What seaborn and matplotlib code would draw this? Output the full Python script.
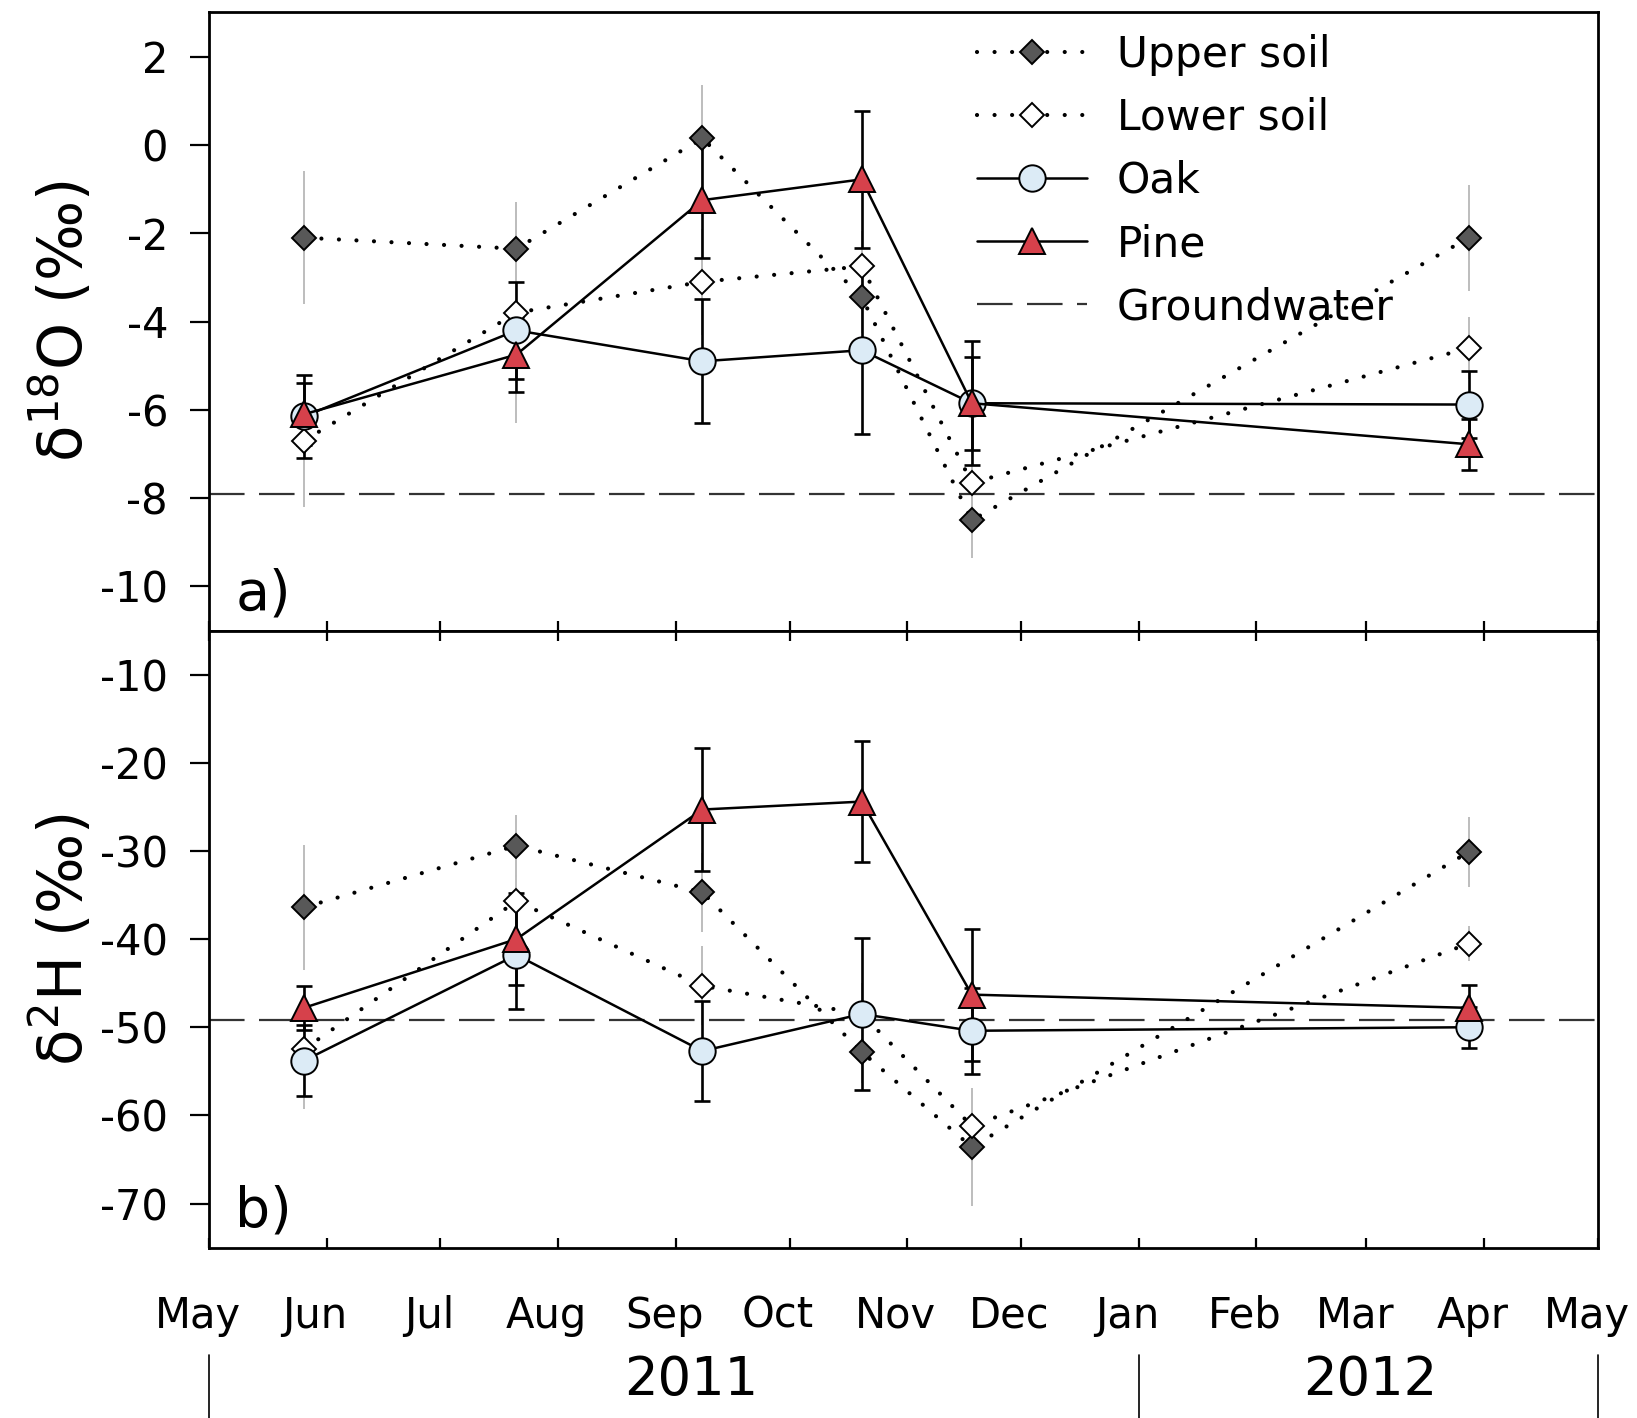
import numpy as np
import pandas as pd
import matplotlib
matplotlib.use('Agg')
import matplotlib.pyplot as plt
import matplotlib.dates as mdates
import matplotlib.transforms as mtransforms
import seaborn as sns

# ---------------- data ----------------
sample_dates = ['2011-05-26', '2011-07-21', '2011-09-08',
                '2011-10-20', '2011-11-18', '2012-03-28']

# panel a: d18O (permil)
upper_o = [-2.1, -2.35, 0.15, -3.45, -8.5, -2.1]
upper_o_err = [1.5, 1.05, 1.2, 0.8, 0.85, 1.2]
lower_o = [-6.7, -3.8, -3.1, -2.75, -7.65, -4.6]
lower_o_err = [1.5, 2.5, 1.2, 0.8, 0.8, 0.7]
oak_o = [-6.15, -4.2, -4.9, -4.65, -5.85, -5.88]
oak_o_err = [0.95, 1.1, 1.4, 1.9, 1.4, 0.75]
pine_o = [-6.1, -4.75, -1.25, -0.78, -5.85, -6.78]
pine_o_err = [0.7, 0.85, 1.3, 1.56, 1.05, 0.58]
groundwater_o = -7.9

# panel b: d2H (permil)
upper_h = [-36.4, -29.4, -34.7, -52.8, -63.6, -30.1]
upper_h_err = [7.1, 3.5, 4.5, 3.5, 6.7, 4.0]
lower_h = [-52.5, -35.7, -45.3, -48.5, -61.2, -40.5]
lower_h_err = [6.8, 3.0, 4.5, 3.5, 4.0, 2.0]
oak_h = [-53.8, -41.8, -52.7, -48.5, -50.4, -50.0]
oak_h_err = [4.0, 6.1, 5.7, 8.6, 4.9, 2.3]
pine_h = [-47.8, -40.0, -25.3, -24.4, -46.3, -47.8]
pine_h_err = [2.5, 5.2, 7.0, 6.9, 7.5, 2.6]
groundwater_h = -49.2

series_names = ['Upper soil', 'Lower soil', 'Oak', 'Pine']
month_labels = ['May', 'Jun', 'Jul', 'Aug', 'Sep', 'Oct', 'Nov', 'Dec',
                'Jan', 'Feb', 'Mar', 'Apr', 'May']
year_bounds = ['2011-05-01', '2012-01-01', '2012-05-01']
year_labels = ['2011', '2012']
year_label_dates = ['2011-09-05', '2012-03-02']
yticks_o = [2, 0, -2, -4, -6, -8, -10]
yticks_h = [-10, -20, -30, -40, -50, -60, -70]


def make_df(vals, errs):
    rows = []
    for name, v, e in zip(series_names, vals, errs):
        for d, vv, ee in zip(sample_dates, v, e):
            rows.append(dict(date=pd.Timestamp(d), value=vv, err=ee, series=name))
    return pd.DataFrame(rows)


df_o = make_df([upper_o, lower_o, oak_o, pine_o],
               [upper_o_err, lower_o_err, oak_o_err, pine_o_err])
df_h = make_df([upper_h, lower_h, oak_h, pine_h],
               [upper_h_err, lower_h_err, oak_h_err, pine_h_err])

# ---------------- style ----------------
sns.set_theme(style='ticks')
plt.rcParams['font.family'] = ['DejaVu Sans']
plt.rcParams['mathtext.default'] = 'regular'
plt.rcParams['axes.unicode_minus'] = False
plt.rcParams['text.color'] = 'black'
plt.rcParams['axes.labelcolor'] = 'black'
plt.rcParams['xtick.color'] = 'black'
plt.rcParams['ytick.color'] = 'black'

DOT = (0, (0.01, 4.2))
styles = {
    'Upper soil': dict(marker='D', markersize=12.5, markerfacecolor='#585858',
                       linestyle=DOT, linewidth=3.0, soil=True, z=3),
    'Lower soil': dict(marker='D', markersize=12.5, markerfacecolor='white',
                       linestyle=DOT, linewidth=3.0, soil=True, z=3),
    'Oak': dict(marker='o', markersize=19, markerfacecolor='#dcebf6',
                linestyle='-', linewidth=1.8, soil=False, z=4),
    'Pine': dict(marker='^', markersize=19, markerfacecolor='#d6414b',
                 linestyle='-', linewidth=1.8, soil=False, z=5),
}

fig = plt.figure(figsize=(16.37, 14.18), dpi=100)
ax_a = fig.add_axes([0.12767, 0.55529, 0.8485, 0.4359])
ax_b = fig.add_axes([0.12767, 0.12017, 0.8485, 0.43512])

xmin = mdates.date2num(pd.Timestamp('2011-05-01'))
xmax = mdates.date2num(pd.Timestamp('2012-05-01'))
month_ticks = pd.date_range('2011-05-01', '2012-05-01', freq='MS')


def draw_panel(ax, df, gw, ylim, yticks, ylabel, plabel):
    handles = {}
    for name in series_names:
        st = styles[name]
        sub = df[df.series == name]
        if st['soil']:
            ax.errorbar(sub.date, sub.value, yerr=sub.err, fmt='none',
                        ecolor='#bdbdbd', elinewidth=1.4, capsize=0, zorder=1.5)
        else:
            ax.errorbar(sub.date, sub.value, yerr=sub.err, fmt='none',
                        ecolor='black', elinewidth=1.9, capsize=5.5,
                        capthick=1.9, zorder=2)
    for name in series_names:
        st = styles[name]
        sub = df[df.series == name]
        n_before = len(ax.lines)
        sns.lineplot(data=sub, x='date', y='value', ax=ax, sort=False,
                     estimator=None, color='black', marker=st['marker'],
                     markersize=st['markersize'],
                     markerfacecolor=st['markerfacecolor'],
                     markeredgecolor='black', markeredgewidth=1.4,
                     linestyle=st['linestyle'], linewidth=st['linewidth'],
                     dash_capstyle='round', zorder=st['z'], label=name,
                     legend=False)
        handles[name] = ax.lines[n_before]
    gw_line = ax.axhline(gw, color='#333333', linewidth=1.6,
                         linestyle=(0, (16, 6.5)), zorder=1, label='Groundwater')
    handles['Groundwater'] = gw_line

    ax.set_xlim(xmin, xmax)
    ax.set_ylim(*ylim)
    ax.set_yticks(yticks)
    ax.set_yticklabels([str(t) for t in yticks])
    ax.set_xlabel('')
    ax.set_ylabel(ylabel, fontsize=43, labelpad=0)
    ax.yaxis.set_label_coords(-0.081, 0.5)
    for sp in ax.spines.values():
        sp.set_visible(True)
        sp.set_linewidth(2.0)
        sp.set_color('black')
    ax.tick_params(axis='y', direction='out', length=13.5, width=1.6,
                   left=True, right=False, pad=16, labelsize=30,
                   colors='black')
    ax.text(0.019, 0.034, plabel, transform=ax.transAxes, fontsize=40,
            ha='left', va='baseline')
    ax.grid(False)
    return handles


h_a = draw_panel(ax_a, df_o, groundwater_o, (-11, 3), yticks_o,
                 'δ$^{18}$O (‰)', 'a)')
h_b = draw_panel(ax_b, df_h, groundwater_h, (-75, -5), yticks_h,
                 'δ$^{2}$H (‰)', 'b)')

# x axis ticks
ax_a.set_xticks(mdates.date2num(month_ticks))
ax_a.set_xticklabels([''] * len(month_ticks))
ax_a.tick_params(axis='x', direction='in', length=7.5, width=1.6,
                 bottom=True, top=False, labelbottom=False)
ax_b.set_xticks(mdates.date2num(month_ticks))
ax_b.set_xticklabels(month_labels)
ax_b.tick_params(axis='x', direction='in', length=7.5, width=1.6,
                 bottom=True, top=True, labelbottom=True, pad=34,
                 labelsize=30, colors='black')

# legend
order = ['Upper soil', 'Lower soil', 'Oak', 'Pine', 'Groundwater']
leg = ax_a.legend([h_a[k] for k in order], order, loc='upper left',
                  bbox_to_anchor=(0.553, 0.966), frameon=False, fontsize=30.5,
                  handlelength=2.6, handletextpad=0.7, labelspacing=0.5,
                  borderpad=0, borderaxespad=0)

# year row
for d in year_bounds:
    ax_b.axvline(mdates.date2num(pd.Timestamp(d)), ymin=-0.276, ymax=-0.174,
                 clip_on=False, color='black', linewidth=1.2)
blend = mtransforms.blended_transform_factory(ax_b.transData, ax_b.transAxes)
for d, lab in zip(year_label_dates, year_labels):
    ax_b.text(mdates.date2num(pd.Timestamp(d)), -0.215, lab, transform=blend,
              ha='center', va='center', fontsize=38)

# shift month labels slightly left like the original
offset = mtransforms.ScaledTranslation(-0.115, 0, fig.dpi_scale_trans)
for lbl in ax_b.get_xticklabels():
    lbl.set_transform(lbl.get_transform() + offset)

fig.savefig('out.png', dpi=100)
